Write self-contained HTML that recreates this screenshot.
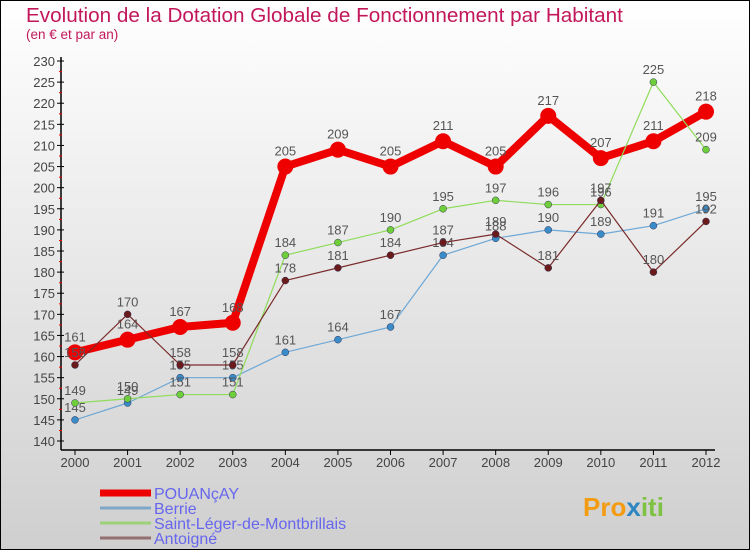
<!DOCTYPE html>
<html><head><meta charset="utf-8"><style>
body{margin:0}
svg text{font-family:"Liberation Sans","DejaVu Sans",sans-serif}
</style></head><body>
<svg width="750" height="550" viewBox="0 0 750 550" xmlns="http://www.w3.org/2000/svg">
<defs><linearGradient id="bg" x1="0" y1="0" x2="0" y2="1"><stop offset="0" stop-color="#ffffff"/><stop offset="1" stop-color="#cfcfcf"/></linearGradient></defs>
<rect x="0.5" y="0.5" width="749" height="549" fill="url(#bg)" stroke="#000"/>
<text x="26" y="22" font-size="20.7" fill="#c2185b">Evolution de la Dotation Globale de Fonctionnement par Habitant</text>
<text x="26" y="39" font-size="13.5" fill="#c2185b">(en € et par an)</text>
<g id="axes"></g>
<g id="series"></g>
<g id="legend"></g>
<g><text x="583" y="516" font-size="26" font-weight="bold" fill="#f39c12">Pro<tspan fill="#2e86c1">x</tspan><tspan fill="#7dc242">iti</tspan></text></g>
</svg>
<script>
const years=[2000,2001,2002,2003,2004,2005,2006,2007,2008,2009,2010,2011,2012];
const pouancay=[161,164,167,168,205,209,205,211,205,217,207,211,218];
const berrie=[145,149,155,155,161,164,167,184,188,190,189,191,195];
const stleger=[149,150,151,151,184,187,190,195,197,196,196,225,209];
const antoigne=[158,170,158,158,178,181,184,187,189,181,197,180,192];
const yTicks=[140,145,150,155,160,165,170,175,180,185,190,195,200,205,210,215,220,225,230];
const NS="http://www.w3.org/2000/svg";
function X(i){return 75+i*(706-75)/(years.length-1);}
function Y(v){return 441-(v-140)*(441-61)/90;}
function mk(t,a,p){const e=document.createElementNS(NS,t);for(const k in a)e.setAttribute(k,a[k]);p.appendChild(e);return e;}
const ax=document.getElementById('axes');
let l=mk('line',{x1:61,y1:57,x2:61,y2:450,stroke:'#000','stroke-width':1.5},ax);


l=mk('line',{x1:61,y1:450,x2:715,y2:450,stroke:'#000','stroke-width':1.5},ax);


yTicks.forEach((v,i)=>{const y=Y(v);mk('line',{x1:57,y1:y,x2:64,y2:y,stroke:'#000'},ax);
 if(i<yTicks.length-1)mk('line',{x1:59,y1:y-10.5,x2:62,y2:y-10.5,stroke:'#e00'},ax);
 const t=mk('text',{x:55,y:y+5,'font-size':13,fill:'#444','text-anchor':'end'},ax);t.textContent=v;
 
 });
years.forEach((yr,i)=>{const x=X(i);mk('line',{x1:x,y1:450,x2:x,y2:455,stroke:'#000'},ax);
 const t=mk('text',{x:x,y:467,'font-size':13,fill:'#444','text-anchor':'middle'},ax);t.textContent=yr;
 
 });
const sg=document.getElementById('series');
const defs=[['pouancay',pouancay,'#ee0000','#ee0000',8,8],['berrie',berrie,'#6fa8d6','#3a8cc8',1.2,3.5],['saint-leger',stleger,'#8fdc5a','#6fcf3a',1.2,3.5],['antoigne',antoigne,'#7a2a2a','#6a1a1a',1.2,3.5]];
defs.forEach(([n,d,lc,pc,w,r])=>{const g=mk('g',{},sg);
 
 
 const p=mk('polyline',{points:d.map((v,i)=>X(i)+','+Y(v)).join(' '),fill:'none',stroke:lc,'stroke-width':w,'stroke-linejoin':'round'},g);
 
 
 d.forEach((v,i)=>{const c=mk('circle',{cx:X(i),cy:Y(v),r:r,fill:pc,stroke:r>4?'none':'#335','stroke-width':0.5},g);
  
  
  const t=mk('text',{x:X(i),y:Y(v)-(r>4?11:8),'font-size':13,fill:'#555','text-anchor':'middle'},g);t.textContent=v;
  
  });});
const lg=document.getElementById('legend');
const names=['POUANçAY','Berrie','Saint-Léger-de-Montbrillais','Antoigné'];
const lcol=['#ee0000','#7fa8c8','#9ed07a','#957070'];const lw=[7,3,3,3];
names.forEach((n,i)=>{const y=493+i*15;const g=mk('g',{},lg);
 
 
 mk('line',{x1:100,y1:y,x2:151,y2:y,stroke:lcol[i],'stroke-width':lw[i]},g);
 const t=mk('text',{x:154,y:y+6,'font-size':16,fill:'#6666ee'},g);t.textContent=n;});
</script>
</body></html>
